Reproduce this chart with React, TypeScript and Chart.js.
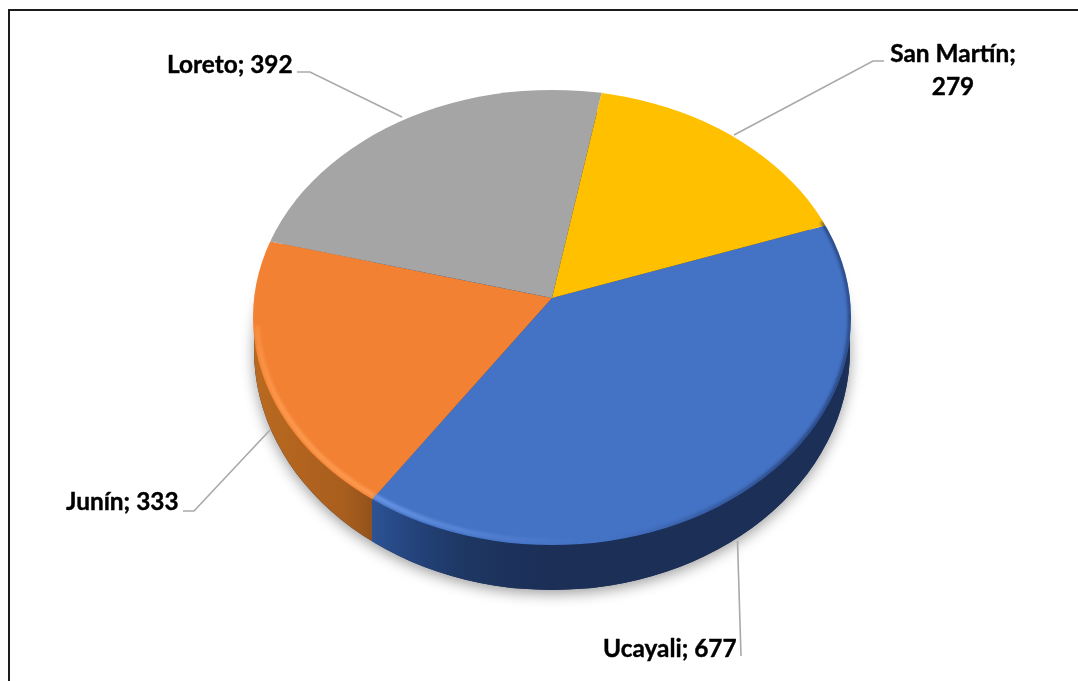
import React, { useEffect, useRef } from "react";
import { Chart, registerables } from "chart.js";

Chart.register(...registerables);

const categories = ["Ucayali", "Junín", "Loreto", "San Martín"];
const values = [677, 333, 392, 279];
const sliceColors = ["#4472C4", "#F38133", "#A5A5A5", "#FFC000"];
const firstSliceRotation = 69.5;

// Layout of the tilted pie (style only)
const APEX = { x: 552, y: 298 };
const TOP = { x: 552, y: 317.5, rx: 299, ry: 227.5 };
const BASE = { x: 552, y: 350, rx: 298, ry: 240 };
const TILT_UPPER = 0.71;
const TILT_LOWER = 0.77;
const OVERSIZE = 1.25;

// label layout per category: text lines anchor and leader polyline
const labelStyles = [
  { x: 603, y: 657, align: "left", leader: [[741, 656], [737.5, 541]] },
  { x: 66, y: 510, align: "left", leader: [[183, 511], [194, 511], [270, 430]] },
  { x: 167, y: 73, align: "left", leader: [[297, 72], [310, 72], [402, 117]] },
  { x: 953, y: 62, align: "center", leader: [[884, 61], [873, 61], [734, 135]] },
];
const wrappedLabels = [false, false, false, true];

function rayHit(angle: number, k: number) {
  const dx = Math.cos(angle);
  const dy = Math.sin(angle) * k;
  const ox = APEX.x - TOP.x;
  const oy = APEX.y - TOP.y;
  const A = (dx * dx) / (TOP.rx * TOP.rx) + (dy * dy) / (TOP.ry * TOP.ry);
  const B = 2 * ((ox * dx) / (TOP.rx * TOP.rx) + (oy * dy) / (TOP.ry * TOP.ry));
  const C = (ox * ox) / (TOP.rx * TOP.rx) + (oy * oy) / (TOP.ry * TOP.ry) - 1;
  const t = (-B + Math.sqrt(B * B - 4 * A * C)) / (2 * A);
  return { x: APEX.x + t * dx, y: APEX.y + t * dy };
}

const piePlugin = {
  id: "tiltedPie",
  beforeDraw(chart: any) {
    const ctx = chart.ctx;
    ctx.save();
    ctx.fillStyle = "#ffffff";
    ctx.fillRect(0, 0, chart.width, chart.height);
    ctx.strokeStyle = "#1c1c1c";
    ctx.lineWidth = 2;
    ctx.beginPath();
    ctx.moveTo(9, chart.height);
    ctx.lineTo(9, 10);
    ctx.lineTo(chart.width, 10);
    ctx.stroke();
    ctx.restore();
  },
  beforeDatasetsDraw(chart: any) {
    const ctx = chart.ctx;
    const arcs = chart.getDatasetMeta(0).data;
    const hit = rayHit(arcs[0].endAngle, TILT_LOWER);
    const span = BASE.rx * 2;
    const left = BASE.x - BASE.rx;
    const f = (x: number) => Math.min(1, Math.max(0, (x - left) / span));

    // soft ground shadow
    ctx.save();
    ctx.shadowColor = "rgba(0,0,0,0.38)";
    ctx.shadowBlur = 14;
    ctx.shadowOffsetY = 4;
    ctx.fillStyle = "#1B2F57";
    ctx.beginPath();
    ctx.ellipse(BASE.x, BASE.y, BASE.rx, BASE.ry, 0, 0, Math.PI * 2);
    ctx.fill();
    ctx.restore();

    // side wall, coloured by slice
    const wall = ctx.createLinearGradient(left, 0, left + span, 0);
    wall.addColorStop(0, "#B9691F");
    wall.addColorStop(f(300), "#B2641F");
    wall.addColorStop(f(345), "#A85E1E");
    wall.addColorStop(f(hit.x) - 0.0005, "#93521B");
    wall.addColorStop(f(hit.x), "#2C5394");
    wall.addColorStop(f(hit.x + 35), "#25457F");
    wall.addColorStop(f(hit.x + 90), "#1E3763");
    wall.addColorStop(f(hit.x + 170), "#1B2F57");
    wall.addColorStop(1, "#1B2F57");
    ctx.save();
    ctx.fillStyle = wall;
    ctx.beginPath();
    ctx.ellipse(BASE.x, BASE.y, BASE.rx, BASE.ry, 0, 0, Math.PI * 2);
    ctx.fill();
    ctx.restore();

    // top face: library arcs, tilted, clipped to the face outline
    const drawHalf = (k: number, y0: number, y1: number) => {
      ctx.save();
      ctx.beginPath();
      ctx.ellipse(TOP.x, TOP.y, TOP.rx, TOP.ry, 0, 0, Math.PI * 2);
      ctx.clip();
      ctx.beginPath();
      ctx.rect(0, y0, chart.width, y1 - y0);
      ctx.clip();
      arcs.forEach((arc: any) => {
        ctx.save();
        ctx.translate(APEX.x, APEX.y);
        ctx.scale(OVERSIZE, OVERSIZE * k);
        ctx.translate(-arc.x, -arc.y);
        arc.draw(ctx);
        ctx.restore();
      });
      ctx.restore();
    };
    drawHalf(TILT_LOWER, APEX.y - 0.5, chart.height);
    drawHalf(TILT_UPPER, 0, APEX.y);

    // bevel highlights and dark rim on the top face
    const param = (p: { x: number; y: number }) =>
      Math.atan2((p.y - TOP.y) / TOP.ry, (p.x - TOP.x) / TOP.rx);
    const pb = param(hit);
    const deg = Math.PI / 180;
    ctx.save();
    ctx.beginPath();
    ctx.ellipse(TOP.x, TOP.y, TOP.rx, TOP.ry, 0, 0, Math.PI * 2);
    ctx.clip();
    ctx.filter = "blur(1.6px)";
    ctx.lineWidth = 5;
    ctx.lineCap = "butt";
    const rim = (a0: number, a1: number, style: any, inset = 4) => {
      ctx.strokeStyle = style;
      ctx.beginPath();
      ctx.ellipse(TOP.x, TOP.y, TOP.rx - inset, TOP.ry - inset, 0, a0, a1);
      ctx.stroke();
    };
    const orange = ctx.createLinearGradient(0, TOP.y + 10, 0, TOP.y + 100);
    orange.addColorStop(0, "rgba(252,155,80,0.5)");
    orange.addColorStop(1, "rgba(252,155,80,0.95)");
    rim(pb, 178 * deg, orange);
    const blue = ctx.createLinearGradient(hit.x, 0, hit.x + 210, 0);
    blue.addColorStop(0, "rgba(110,155,235,0.9)");
    blue.addColorStop(0.55, "rgba(100,145,225,0.45)");
    blue.addColorStop(1, "rgba(100,145,225,0)");
    rim(85 * deg, pb, blue);
    const dark = ctx.createLinearGradient(610, 0, 790, 0);
    dark.addColorStop(0, "rgba(25,45,90,0)");
    dark.addColorStop(1, "rgba(25,45,90,0.6)");
    ctx.lineWidth = 4;
    rim(-25 * deg, 90 * deg, dark, 1);
    ctx.restore();
    return false;
  },
  afterDraw(chart: any) {
    const ctx = chart.ctx;
    ctx.save();
    ctx.strokeStyle = "#A9A9A9";
    ctx.lineWidth = 1.6;
    labelStyles.forEach((s) => {
      ctx.beginPath();
      s.leader.forEach(([x, y], i) => (i ? ctx.lineTo(x, y) : ctx.moveTo(x, y)));
      ctx.stroke();
    });
    ctx.fillStyle = "#000000";
    ctx.strokeStyle = "#000000";
    ctx.lineWidth = 0.4;
    ctx.lineJoin = "round";
    ctx.font = 'bold 24.4px Lato, "Open Sans", sans-serif';
    ctx.textBaseline = "alphabetic";
    const put = (t: string, x: number, y: number) => {
      ctx.fillText(t, x, y);
      ctx.strokeText(t, x, y);
    };
    categories.forEach((cat, i) => {
      const s = labelStyles[i];
      ctx.textAlign = s.align;
      if (wrappedLabels[i]) {
        put(`${cat};`, s.x, s.y);
        put(`${values[i]}`, s.x, s.y + 33);
      } else {
        put(`${cat}; ${values[i]}`, s.x, s.y);
      }
    });
    ctx.restore();
  },
};

export default function App() {
  const ref = useRef<HTMLCanvasElement>(null);
  useEffect(() => {
    const chart = new Chart(ref.current as HTMLCanvasElement, {
      type: "pie",
      data: {
        labels: categories,
        datasets: [
          { data: values, backgroundColor: sliceColors, borderWidth: 0, hoverOffset: 0 },
        ],
      },
      options: {
        responsive: false,
        animation: false,
        rotation: firstSliceRotation,
        layout: { padding: { left: 253, right: 227, top: 41, bottom: 42 } },
        plugins: { legend: { display: false }, tooltip: { enabled: false } },
      },
      plugins: [piePlugin],
    } as any);
    return () => chart.destroy();
  }, []);
  return (
    <canvas
      ref={ref}
      width={1078}
      height={681}
      style={{ position: "fixed", left: 0, top: 0, width: 1078, height: 681 }}
    />
  );
}
